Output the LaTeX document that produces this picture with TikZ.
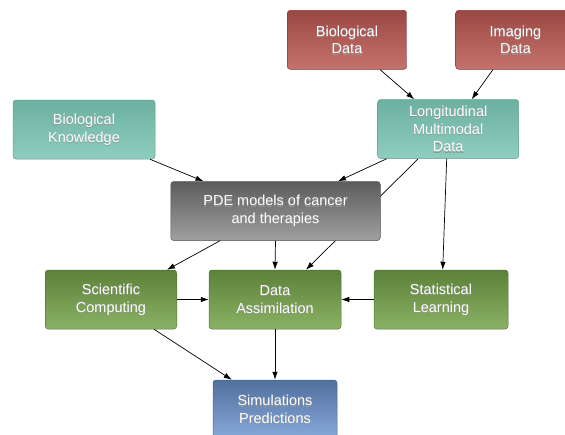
\documentclass[tikz,border=0pt]{standalone}
\usepackage{fontspec}
\setmainfont{Liberation Sans}
\usetikzlibrary{arrows.meta,backgrounds}
\definecolor{redtop}{RGB}{155,72,68}
\definecolor{redbot}{RGB}{198,114,108}
\definecolor{tealtop}{RGB}{108,176,160}
\definecolor{tealbot}{RGB}{142,206,191}
\definecolor{graytop}{RGB}{92,92,92}
\definecolor{graybot}{RGB}{160,160,160}
\definecolor{greentop}{RGB}{92,129,58}
\definecolor{greenbot}{RGB}{138,178,100}
\definecolor{bluetop}{RGB}{80,112,158}
\definecolor{bluebot}{RGB}{136,170,218}
\newcommand\sh[1]{\leavevmode\rlap{\raisebox{-1.3pt}[0pt][0pt]{\color{black!42}#1}}#1}
\begin{document}
\begin{tikzpicture}[x=1pt, y=-1pt,
    box/.style={rectangle, rounded corners=3pt, minimum height=59pt, inner sep=0pt,
      align=center, text=white, line width=0.5pt,
      font=\fontsize{14.5}{17.8}\selectfont},
    redbox/.style={box, top color=redtop, bottom color=redbot, draw=redtop!85!black},
    tealbox/.style={box, top color=tealtop, bottom color=tealbot, draw=tealtop!90!black},
    graybox/.style={box, top color=graytop, bottom color=graybot, draw=graytop!90!black},
    greenbox/.style={box, top color=greentop, bottom color=greenbot, draw=greentop!90!black},
    bluebox/.style={box, top color=bluetop, bottom color=bluebot, draw=bluetop!90!black},
    arr/.style={-{Latex[length=8pt,width=5.5pt]}, line width=0.7pt}]
        \clip (0,0) rectangle (565,434);
        \node[redbox, minimum width=119.4pt] (biodata) at (347,39.8) {\sh{Biological}\\\sh{Data}};
        \node[redbox, minimum width=119.6pt] (imaging) at (515.5,39.8) {\sh{Imaging}\\\sh{Data}};
        \node[tealbox, minimum width=142pt] (bioknow) at (84,129.5) {\sh{Biological}\\\sh{Knowledge}};
        \node[tealbox, minimum width=141pt] (longit) at (448.2,129) {\sh{Longitudinal}\\\sh{Multimodal}\\\sh{Data}};
        \node[graybox, minimum width=209.5pt] (pde) at (275.5,211) {\sh{PDE models of cancer}\\\sh{and therapies}};
        \node[greenbox, minimum width=131.5pt] (scicomp) at (111,299.5) {\sh{Scientific}\\\sh{Computing}};
        \node[greenbox, minimum width=132pt] (dataass) at (275,299.5) {\sh{Data}\\\sh{Assimilation}};
        \node[greenbox, minimum width=134pt] (statlearn) at (441,299.5) {\sh{Statistical}\\\sh{Learning}};
        \node[bluebox, minimum width=124pt] (simpred) at (275,409.5) {\sh{Simulations}\\\sh{Predictions}};
        \draw[arr] ([xshift=33pt]biodata.south) -- ([xshift=-34pt]longit.north);
        \draw[arr] ([xshift=-22.5pt]imaging.south) -- ([xshift=23.5pt]longit.north);
        \draw[arr] ([xshift=66pt]bioknow.south) -- ([xshift=-72pt]pde.north);
        \draw[arr] ([xshift=-61.5pt]longit.south) -- ([xshift=62.5pt]pde.north);
        \begin{scope}[on background layer]
        \draw[arr] ([xshift=-30pt]longit.south) -- ([xshift=31pt]dataass.north);
        \end{scope}
        \draw[arr] ([xshift=-1.5pt]longit.south) -- ([xshift=1.7pt]statlearn.north);
        \draw[arr] ([xshift=-55.5pt]pde.south) -- ([xshift=56pt]scicomp.north);
        \draw[arr] (pde.south) -- (dataass.north);
        \draw[arr] (scicomp.east) -- (dataass.west);
        \draw[arr] (statlearn.west) -- (dataass.east);
        \draw[arr] ([xshift=43pt]scicomp.south) -- ([xshift=-43.3pt]simpred.north);
        \draw[arr] (dataass.south) -- (simpred.north);
    \end{tikzpicture}
\end{document}
